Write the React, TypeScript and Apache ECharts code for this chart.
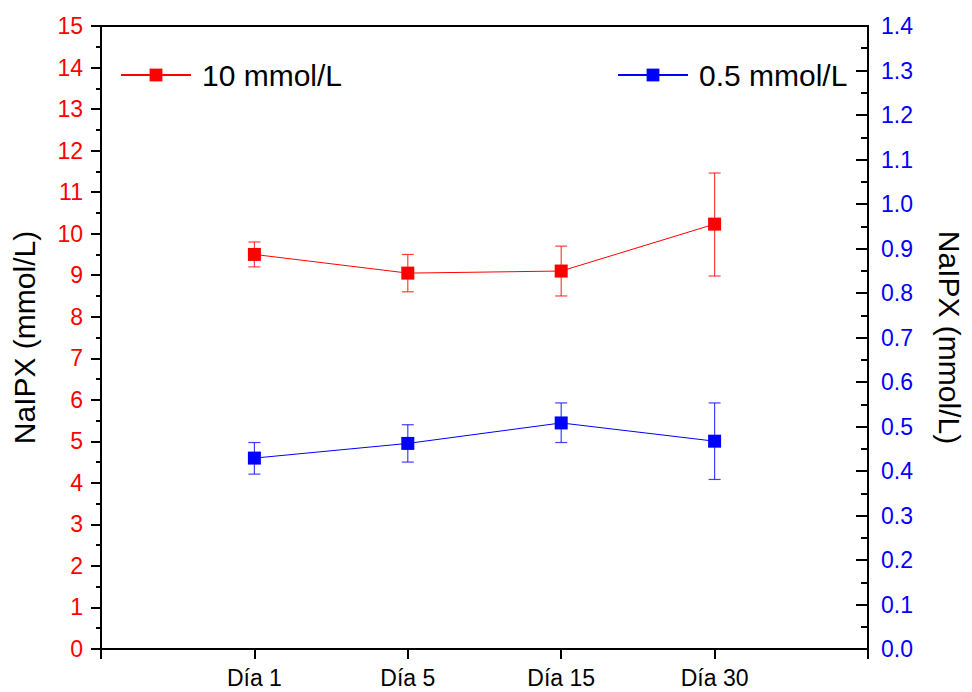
import React, { useEffect, useRef } from "react";
import * as echarts from "echarts";

const categories = ["Día 1", "Día 5", "Día 15", "Día 30"];
const axisCategories = ["", "Día 1", "Día 5", "Día 15", "Día 30", ""];

const redName = "10 mmol/L";
const redMean = [9.5, 9.05, 9.1, 10.23];
const redLow = [9.2, 8.6, 8.5, 8.98];
const redHigh = [9.8, 9.5, 9.7, 11.46];

const blueName = "0.5 mmol/L";
const blueMean = [0.429, 0.462, 0.508, 0.467];
const blueLow = [0.393, 0.42, 0.464, 0.381];
const blueHigh = [0.464, 0.504, 0.553, 0.553];

const leftTicks = { min: 0, max: 15, interval: 1 };
const rightTicks = { min: 0, max: 1.4, interval: 0.1 };

const FONT = "Liberation Sans, Arial, sans-serif";

function errorBarSeries(name: string, color: string, yAxisIndex: number, low: number[], high: number[]) {
  return {
    type: "custom",
    name: name + " err",
    yAxisIndex,
    data: categories.map((c, i) => [c, low[i], high[i]]),
    encode: { x: 0, y: [1, 2] },
    silent: true,
    z: 1,
    renderItem: (params: any, api: any) => {
      const x = api.value(0);
      const lo = api.coord([x, api.value(1)]);
      const hi = api.coord([x, api.value(2)]);
      const hw = 6;
      const style = { stroke: color, lineWidth: 1.2, opacity: 0.75 };
      return {
        type: "group",
        children: [
          { type: "line", shape: { x1: lo[0], y1: lo[1], x2: hi[0], y2: hi[1] }, style },
          { type: "line", shape: { x1: lo[0] - hw, y1: lo[1], x2: lo[0] + hw, y2: lo[1] }, style },
          { type: "line", shape: { x1: hi[0] - hw, y1: hi[1], x2: hi[0] + hw, y2: hi[1] }, style },
        ],
      };
    },
  };
}

export default function App() {
  const ref = useRef<HTMLDivElement>(null);
  useEffect(() => {
    if (!ref.current) return;
    const chart = echarts.init(ref.current, undefined, { renderer: "svg" });
    const legendCommon = {
      orient: "horizontal",
      itemWidth: 70,
      itemHeight: 16,
      top: 55,
      textStyle: { fontSize: 30, color: "#000", fontFamily: FONT, padding: [0, 0, 0, 6] },
    };
    chart.setOption({
      animation: false,
      backgroundColor: "#fff",
      textStyle: { fontFamily: FONT },
      grid: {
        left: 101,
        right: 90,
        top: 26,
        bottom: 43,
        show: true,
        borderColor: "#000",
        borderWidth: 2,
        containLabel: false,
      },
      legend: [
        { ...legendCommon, data: [redName], left: 115 },
        { ...legendCommon, data: [blueName], left: 612 },
      ],
      xAxis: {
        type: "category",
        data: axisCategories,
        boundaryGap: false,
        axisLine: { lineStyle: { color: "#000", width: 2 } },
        axisTick: { show: true, inside: false, length: 10, lineStyle: { color: "#000", width: 2 }, alignWithLabel: true },
        axisLabel: { color: "#000", fontSize: 23, fontFamily: FONT, margin: 17, interval: 0 },
        splitLine: { show: false },
      },
      yAxis: [
        {
          type: "value",
          ...leftTicks,
          position: "left",
          name: "NaIPX (mmol/L)",
          nameLocation: "middle",
          nameGap: 62,
          nameTextStyle: { fontSize: 30, color: "#000", fontFamily: FONT },
          axisLine: { show: true, lineStyle: { color: "#000", width: 2 } },
          axisTick: { show: true, inside: false, length: 10, lineStyle: { color: "#000", width: 2 } },
          minorTick: { show: true, splitNumber: 2, length: 5, lineStyle: { color: "#000", width: 2 } },
          axisLabel: { color: "#ff0000", fontSize: 23, fontFamily: FONT, margin: 18 },
          splitLine: { show: false },
        },
        {
          type: "value",
          ...rightTicks,
          position: "right",
          name: "NaIPX (mmol/L)",
          nameLocation: "middle",
          nameGap: 66,
          nameRotate: -90,
          nameTextStyle: { fontSize: 30, color: "#000", fontFamily: FONT },
          axisLine: { show: true, lineStyle: { color: "#000", width: 2 } },
          axisTick: { show: true, inside: true, length: 12, lineStyle: { color: "#000", width: 2 } },
          minorTick: { show: true, splitNumber: 2, length: 7, lineStyle: { color: "#000", width: 2 } },
          axisLabel: {
            color: "#0000ff",
            fontSize: 23,
            fontFamily: FONT,
            margin: 13,
            formatter: (v: number) => v.toFixed(1),
          },
          splitLine: { show: false },
        },
      ],
      series: [
        errorBarSeries(redName, "#ff0000", 0, redLow, redHigh),
        errorBarSeries(blueName, "#0000ff", 1, blueLow, blueHigh),
        {
          type: "line",
          name: redName,
          yAxisIndex: 0,
          data: categories.map((c, i) => [c, redMean[i]]),
          symbol: "rect",
          symbolSize: 13,
          itemStyle: { color: "#ff0000" },
          lineStyle: { color: "#ff0000", width: 1 },
          z: 3,
        },
        {
          type: "line",
          name: blueName,
          yAxisIndex: 1,
          data: categories.map((c, i) => [c, blueMean[i]]),
          symbol: "rect",
          symbolSize: 13,
          itemStyle: { color: "#0000ff" },
          lineStyle: { color: "#0000ff", width: 1 },
          z: 3,
        },
      ],
    });
    return () => chart.dispose();
  }, []);
  return <div ref={ref} style={{ width: 972, height: 692, position: "absolute", left: 0, top: 0 }} />;
}
